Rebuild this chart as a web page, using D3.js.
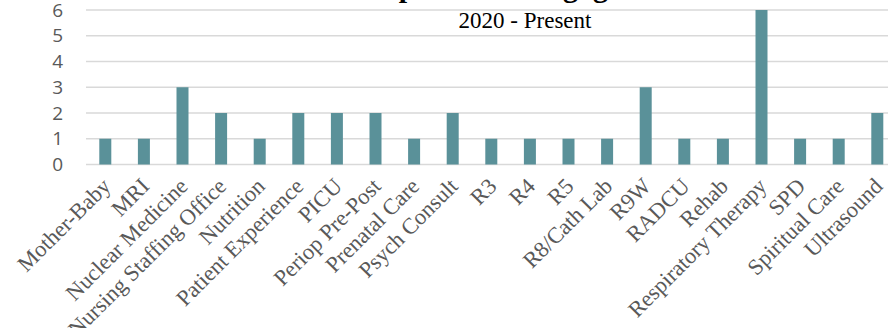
<!DOCTYPE html>
<html><head><meta charset="utf-8">
<script src="https://cdn.jsdelivr.net/npm/d3@7"></script>
<style>body{margin:0;background:#fff;overflow:hidden}</style>
</head><body>
<svg id="c" width="888" height="328"></svg>
<script>
const categories = ["Mother-Baby","MRI","Nuclear Medicine","Nursing Staffing Office","Nutrition","Patient Experience","PICU","Periop Pre-Post","Prenatal Care","Psych Consult","R3","R4","R5","R8/Cath Lab","R9W","RADCU","Rehab","Respiratory Therapy","SPD","Spiritual Care","Ultrasound"];
const values = [1,1,3,2,1,2,2,2,1,2,1,1,1,1,3,1,1,6,1,1,2];
const yTicks = [0,1,2,3,4,5,6];
const titleText = "Department Engagement";
const subtitleText = "2020 - Present";

const svg = d3.select("#c");
const plotLeft = 86, plotRight = 896.6, plotTop = 10, plotBottom = 164.5;
const x = d3.scaleBand().domain(categories).range([plotLeft, plotRight]).padding(0);
const y = d3.scaleLinear().domain([0,6]).range([plotBottom, plotTop]);
const barW = 12;
const serif = "'Liberation Serif', serif";

svg.append("g").selectAll("line").data(yTicks).join("line")
  .attr("x1", plotLeft).attr("x2", 888)
  .attr("y1", d => y(d)).attr("y2", d => y(d))
  .attr("stroke", "#d9d9d9").attr("stroke-width", 1.5);

const yAxis = d3.axisLeft(y).tickValues(yTicks).tickSize(0).tickPadding(0).tickFormat(d3.format("d"));
const ya = svg.append("g").attr("transform", `translate(63,0)`).call(yAxis);
ya.select(".domain").remove();
ya.selectAll("text").attr("font-family", "'Open Sans', sans-serif").attr("font-size", 19).attr("fill", "#595959");

svg.append("g").selectAll("rect").data(categories).join("rect")
  .attr("x", (d) => x(d) + x.bandwidth()/2 - barW/2)
  .attr("width", barW)
  .attr("y", (d,i) => y(values[i]))
  .attr("height", (d,i) => y(0) - y(values[i]))
  .attr("fill", "#5a9199");

svg.append("g").selectAll("text").data(categories).join("text")
  .attr("transform", d => `translate(${x(d) + x.bandwidth()/2 + 1},182) rotate(-45)`)
  .attr("text-anchor", "end").attr("dy", "0.35em")
  .attr("font-family", serif).attr("font-size", 22.5).attr("fill", "#595959")
  .text(d => d);

svg.append("text").attr("x", 525).attr("y", -3).attr("text-anchor", "middle")
  .attr("font-family", serif).attr("font-weight", "bold").attr("font-size", 30).attr("fill", "#000")
  .text(titleText);
svg.append("text").attr("x", 525).attr("y", 28).attr("text-anchor", "middle")
  .attr("font-family", serif).attr("font-size", 23).attr("fill", "#000")
  .text(subtitleText);
</script>
</body></html>
